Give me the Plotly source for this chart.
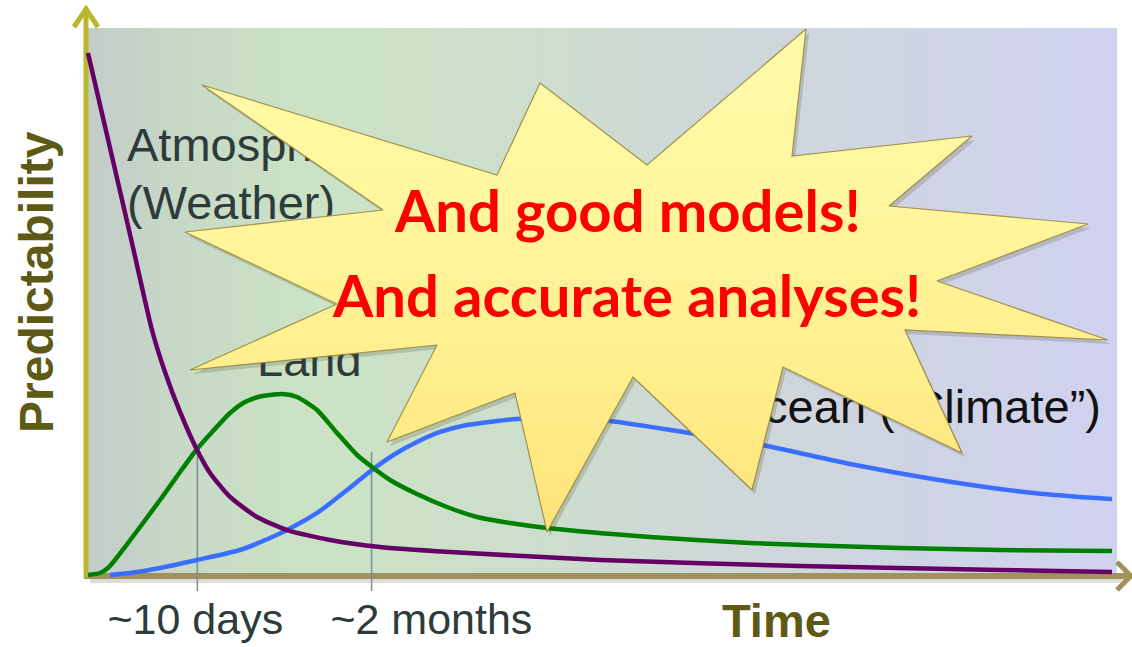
import plotly.graph_objects as go

# ---------------- data (time in arbitrary units 0-100, predictability 0-100) ----------------
time_atm = [0.19, 2.33, 4.46, 6.40, 7.66, 9.12, 10.77, 12.03, 13.97, 16.59, 19.50, 23.67, 28.52, 35.31,
            49.85, 69.25, 88.65, 99.52]
pred_atm = [95.44, 78.10, 60.77, 44.89, 37.23, 29.93, 22.99, 18.80, 14.42, 10.77, 8.39, 6.57, 5.29, 4.38,
            2.92, 1.82, 1.09, 0.73]

time_land = [0.19, 1.36, 2.13, 2.81, 3.78, 5.24, 7.18, 9.12, 10.77, 12.32, 13.97, 15.42, 16.68, 17.85,
             19.11, 20.47, 22.41, 24.35, 26.29, 27.74, 29.49, 32.10, 35.01, 37.92, 41.13, 44.71, 54.70,
             64.40, 78.95, 88.65, 99.52]
pred_land = [0.18, 0.55, 1.46, 2.92, 5.29, 8.94, 13.87, 18.98, 23.18, 26.46, 29.74, 31.75, 32.66, 33.03,
             33.21, 32.66, 30.29, 26.09, 22.08, 19.89, 17.52, 14.96, 12.59, 10.77, 9.67, 8.76, 7.12,
             6.02, 5.11, 4.74, 4.56]

time_ocean = [2.33, 4.27, 7.18, 10.77, 14.94, 17.85, 19.50, 22.41, 25.32, 27.74, 29.97, 32.10, 34.34,
              36.95, 41.80, 45.97, 50.82, 57.90, 66.05, 74.10, 82.74, 90.98, 96.41, 99.52]
pred_ocean = [0.18, 0.55, 1.46, 2.92, 4.74, 6.93, 8.39, 11.50, 15.69, 19.34, 22.26, 24.45, 26.28,
              27.55, 28.65, 28.83, 28.28, 26.28, 23.72, 20.44, 17.52, 15.33, 14.42, 14.05]

mark_times = [10.8, 27.7]
mark_tops = [23.0, 22.6]
mark_labels = ["~10 days", "~2 months"]
mark_label_times = [10.6, 33.5]

series_names = ["Atmosphere", "Land", "Ocean"]
series_colors = ["#660066", "#008000", "#3A6EFF"]

callout_lines = ["And good models!", "And accurate analyses!"]

# ---------------- pixel <-> data calibration for decorations ----------------
W, H = 1132, 647
X0PX, XSCALE = 86.0, 10.31
Y0PX, YSCALE = 576.0, 5.48


def dx(p):
    return (p - X0PX) / XSCALE


def dy(p):
    return (Y0PX - p) / YSCALE


fig = go.Figure()

# background panel with horizontal gradient
bg_px = [(88, 28), (1117, 28), (1117, 576), (88, 576), (88, 28)]
fig.add_trace(go.Scatter(
    x=[dx(p[0]) for p in bg_px], y=[dy(p[1]) for p in bg_px],
    mode="lines", line=dict(width=0), fill="toself",
    fillgradient=dict(type="horizontal", colorscale=[
        [0.0, "rgb(194,205,200)"], [0.03, "rgb(196,208,200)"], [0.1, "rgb(199,218,198)"],
        [0.22, "rgb(203,227,196)"], [0.42, "rgb(205,222,204)"], [0.6, "rgb(206,216,215)"],
        [0.8, "rgb(207,212,228)"], [1.0, "rgb(208,210,240)"]]),
    hoverinfo="skip"))

# x-axis shadow
fig.add_trace(go.Scatter(x=[dx(90), dx(1126)], y=[dy(580), dy(580)], mode="lines",
                         line=dict(color="rgba(60,60,40,0.18)", width=6), hoverinfo="skip"))
# axes (arrows)
fig.add_trace(go.Scatter(x=[dx(84), dx(1129)], y=[dy(576), dy(576)], mode="lines",
                         line=dict(color="rgb(160,146,92)", width=6), hoverinfo="skip"))
fig.add_trace(go.Scatter(x=[dx(1117), dx(1131), dx(1117)], y=[dy(562), dy(576), dy(590)], mode="lines",
                         line=dict(color="rgb(160,146,92)", width=5), hoverinfo="skip"))
fig.add_trace(go.Scatter(x=[dx(86), dx(86)], y=[dy(578), dy(10)], mode="lines",
                         line=dict(color="rgb(185,183,46)", width=5), hoverinfo="skip"))
fig.add_trace(go.Scatter(x=[dx(74), dx(86), dx(98)], y=[dy(27), dy(9), dy(27)], mode="lines",
                         line=dict(color="rgb(185,183,46)", width=5), hoverinfo="skip"))

# marker lines
for t, top in zip(mark_times, mark_tops):
    fig.add_trace(go.Scatter(x=[t, t], y=[top, dy(591)], mode="lines",
                             line=dict(color="#7C8C98", width=1.5), hoverinfo="skip"))

# curves
for xs, ys, c in [(time_ocean, pred_ocean, series_colors[2]),
                  (time_land, pred_land, series_colors[1]),
                  (time_atm, pred_atm, series_colors[0])]:
    fig.add_trace(go.Scatter(x=xs, y=ys, mode="lines",
                             line=dict(color=c, width=4.5, shape="spline", smoothing=0.6),
                             hoverinfo="skip"))

# series labels (drawn as traces so the star can cover them)
lab_font = dict(family="Liberation Sans, Arial, sans-serif", size=47, color="#2E3B3B")
fig.add_trace(go.Scatter(x=[dx(127)], y=[dy(149)], mode="text", text=[series_names[0]],
                         textposition="middle right", textfont=lab_font, hoverinfo="skip"))
fig.add_trace(go.Scatter(x=[dx(127)], y=[dy(207)], mode="text", text=["(Weather)"],
                         textposition="middle right", textfont=lab_font, hoverinfo="skip"))
fig.add_trace(go.Scatter(x=[dx(257)], y=[dy(364)], mode="text", text=[series_names[1]],
                         textposition="middle right", textfont=lab_font, hoverinfo="skip"))
fig.add_trace(go.Scatter(x=[dx(1101)], y=[dy(411)], mode="text", text=["Ocean (\u201cClimate\u201d)"],
                         textposition="middle left",
                         textfont=dict(family="Liberation Sans, Arial, sans-serif", size=47, color="#111111"),
                         hoverinfo="skip"))

# star burst
star_px = [(806, 29), (792, 156), (972, 136), (889, 206), (1088, 224), (937, 281), (1108, 340),
           (905, 330), (962, 453), (783, 367), (752, 490), (633, 377), (547, 532), (515, 393),
           (387, 442), (437, 345), (190, 370), (337, 304), (185, 232), (383, 210), (202, 85),
           (497, 175), (540, 83), (647, 165), (806, 29)]
fig.add_trace(go.Scatter(x=[dx(p[0] + 3) for p in star_px], y=[dy(p[1] + 4) for p in star_px],
                         mode="lines", line=dict(width=0), fill="toself",
                         fillcolor="rgba(70,70,30,0.2)", hoverinfo="skip"))
fig.add_trace(go.Scatter(x=[dx(p[0]) for p in star_px], y=[dy(p[1]) for p in star_px],
                         mode="lines", line=dict(color="rgba(150,130,60,0.85)", width=1.2),
                         fill="toself",
                         fillgradient=dict(type="vertical", colorscale=[
                             [0.0, "rgb(255,226,120)"], [0.3, "rgb(255,238,140)"],
                             [0.6, "rgb(255,245,155)"], [1.0, "rgb(255,251,170)"]]),
                         hoverinfo="skip"))

# time labels
for t, lab in zip(mark_label_times, mark_labels):
    fig.add_trace(go.Scatter(x=[t], y=[dy(623)], mode="text", text=[lab], textposition="middle center",
                             textfont=dict(family="Liberation Sans, Arial, sans-serif", size=43,
                                           color="#2E3B3B"), hoverinfo="skip"))

annotations = [
    dict(x=dx(627), y=dy(209), text=callout_lines[0], showarrow=False, xanchor="center", yanchor="middle",
         font=dict(family="Lato, Open Sans, sans-serif", size=58, color="#FF0000", weight="bold")),
    dict(x=dx(626), y=dy(294), text=callout_lines[1], showarrow=False, xanchor="center", yanchor="middle",
         font=dict(family="Lato, Open Sans, sans-serif", size=58, color="#FF0000", weight="bold")),
    dict(x=dx(776), y=dy(620), text="Time", showarrow=False, xanchor="center", yanchor="middle",
         font=dict(family="Liberation Sans, Arial, sans-serif", size=47, color="#5E5A16", weight="bold")),
    dict(x=dx(36), y=dy(282), text="Predictability", showarrow=False, textangle=-90,
         xanchor="center", yanchor="middle",
         font=dict(family="Liberation Sans, Arial, sans-serif", size=48, color="#5E5A16", weight="bold")),
]

fig.update_layout(
    width=W, height=H, margin=dict(l=0, r=0, t=0, b=0),
    paper_bgcolor="white", plot_bgcolor="white", showlegend=False, hovermode=False,
    xaxis=dict(range=[dx(0), dx(W)], visible=False, fixedrange=True),
    yaxis=dict(range=[dy(H), dy(0)], visible=False, fixedrange=True),
    annotations=annotations,
)

fig.write_html("out.html", config={"displayModeBar": False},
               post_script="document.body.style.margin='0px';document.body.style.overflow='hidden';")
